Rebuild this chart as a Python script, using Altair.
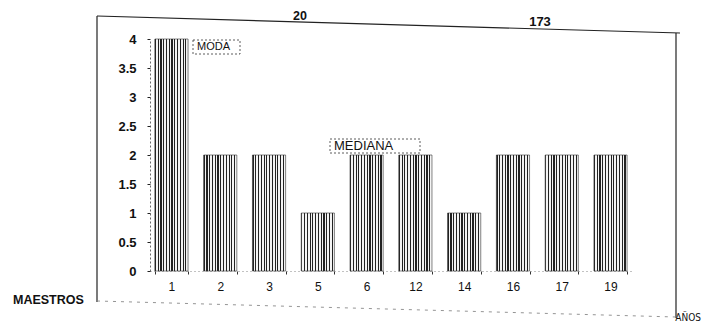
import altair as alt
import pandas as pd

# Data
anos = ["1", "2", "3", "5", "6", "12", "14", "16", "17", "19"]
maestros = [4, 2, 2, 1, 2, 2, 1, 2, 2, 2]
ytick_values = [0, 0.5, 1, 1.5, 2, 2.5, 3, 3.5, 4]

total_n = sum(maestros)                                      # 20
total_sum = sum(int(a) * m for a, m in zip(anos, maestros))  # 173

df = pd.DataFrame({"anos": anos, "maestros": maestros})
one = pd.DataFrame({"k": [0]})

# vertical hatching via hard-stop linear gradient
stops = []
n = 12
for k in range(n):
    a = k / n
    b = (k + 0.42) / n
    c = (k + 1) / n
    stops += [
        alt.GradientStop(offset=a, color="#222222"),
        alt.GradientStop(offset=b, color="#222222"),
        alt.GradientStop(offset=b, color="#f4f4f4"),
        alt.GradientStop(offset=c, color="#f4f4f4"),
    ]
hatch = alt.Gradient(gradient="linear", stops=stops, x1=0, x2=1, y1=0, y2=0)

FONT = "Liberation Sans"

bars = alt.Chart(df).mark_bar(color=hatch, stroke="#333", strokeWidth=0.6).encode(
    x=alt.X("anos:N", sort=anos,
            scale=alt.Scale(paddingInner=0.32, paddingOuter=0.1),
            axis=alt.Axis(title=None, labelAngle=0, labelFont=FONT, labelFontSize=12,
                          labelColor="#111", labelPadding=7, tickBand="extent",
                          tickSize=3, tickColor="#333", domainColor="#666",
                          domainDash=[1, 3], domainWidth=0.8)),
    y=alt.Y("maestros:Q", scale=alt.Scale(domain=[0, 4], nice=False),
            axis=alt.Axis(title=None, values=ytick_values, format="~g",
                          labelFont=FONT, labelFontWeight="bold", labelFontSize=13,
                          labelColor="#111", labelPadding=11, tickSize=3,
                          tickColor="#222", domainColor="#444", domainDash=[2, 2],
                          domainWidth=0.8, grid=False)),
)

def rule(x, x2, y, y2, dash=None, color="#222", w=1.2):
    kw = dict(color=color, strokeWidth=w)
    if dash:
        kw["strokeDash"] = dash
    return alt.Chart(one).mark_rule(**kw).encode(
        x=alt.value(x), x2=alt.value(x2), y=alt.value(y), y2=alt.value(y2))

frame = [
    rule(-53, 530, -23, -6),           # top
    rule(-53, -53, -23, 263),          # left
    rule(526, 526, -6, 279),           # right
    rule(-53, 526, 262, 278, dash=[3, 5], color="#888", w=0.9),  # bottom
]

def label(text, x, y, size=13, weight="normal", align="left", font=FONT,
          baseline="middle"):
    return alt.Chart(one).mark_text(
        text=text, fontSize=size, fontWeight=weight, align=align,
        baseline=baseline, font=font, color="#111"
    ).encode(x=alt.value(x), y=alt.value(y))

def box(x, x2, y, y2):
    return alt.Chart(one).mark_rect(
        fill="white", stroke="#333", strokeWidth=0.8, strokeDash=[2, 2]
    ).encode(x=alt.value(x), x2=alt.value(x2), y=alt.value(y), y2=alt.value(y2))

texts = [
    label(str(total_n), 150, -19, size=12.5, weight="bold", align="center",
          baseline="alphabetic"),
    label(str(total_sum), 390, -13, size=13, weight="bold", align="center",
          baseline="alphabetic"),
    label("MAESTROS", -137, 261, size=12.5, weight="bold"),
    label("AÑOS", 551, 283.5, size=10, align="right", baseline="bottom",
          font="Liberation Sans Narrow, DejaVu Sans Condensed, Liberation Sans"),
    box(43, 90, 1, 15),
    label("MODA", 47, 8, size=11),
    box(180, 270, 100, 114),
    label("MEDIANA", 184, 107, size=13),
]

chart = alt.layer(*frame, bars, *texts).properties(
    width=482, height=232,
    autosize=alt.AutoSizeParams(type="none"),
    padding={"left": 142, "top": 31, "right": 70, "bottom": 52},
    background="white",
).configure_view(stroke=None)

chart.save("out.html", embed_options={"renderer": "svg", "actions": False})
